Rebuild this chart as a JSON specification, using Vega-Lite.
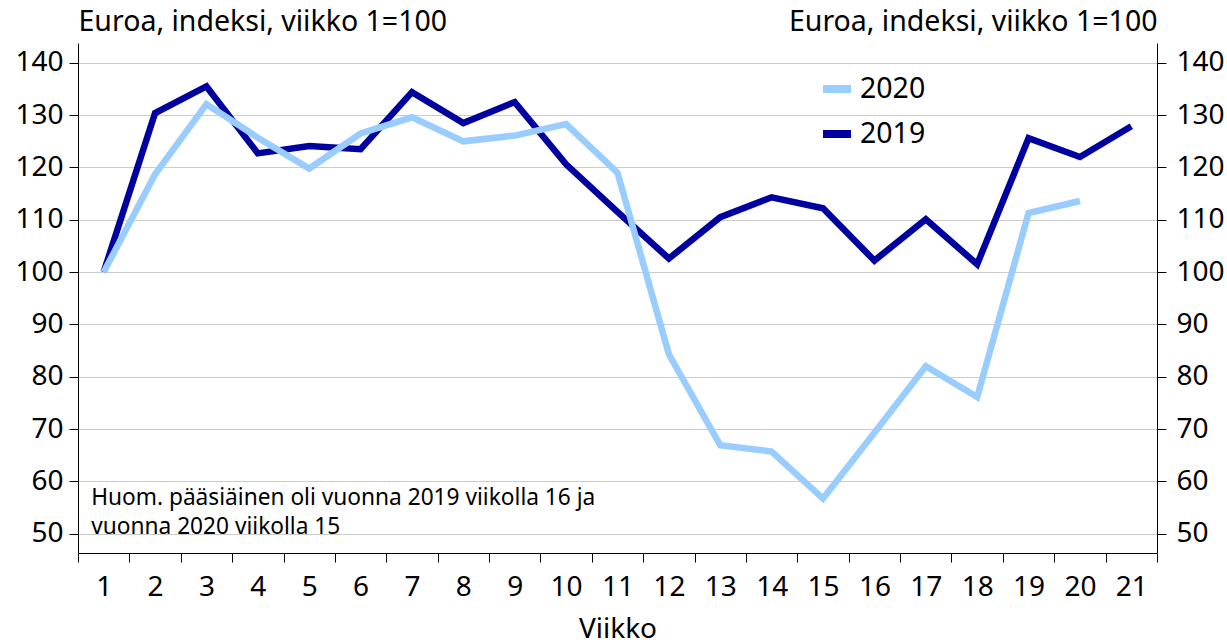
{
  "$schema": "https://vega.github.io/schema/vega-lite/v6.json",
  "width": 1079,
  "height": 510,
  "autosize": {"type": "none"},
  "padding": {"left": 78, "top": 43, "right": 70, "bottom": 91},
  "background": "white",
  "config": {
    "font": "Noto Sans",
    "view": {"stroke": null},
    "axis": {"labelColor": "black", "titleColor": "black", "titleFontWeight": "normal", "domainColor": "black", "tickColor": "black"}
  },
  "datasets": {
    "series": [
      {"week": 1, "year": "2019", "value": 100},
      {"week": 2, "year": "2019", "value": 130.4},
      {"week": 3, "year": "2019", "value": 135.5},
      {"week": 4, "year": "2019", "value": 122.7},
      {"week": 5, "year": "2019", "value": 124.1},
      {"week": 6, "year": "2019", "value": 123.5},
      {"week": 7, "year": "2019", "value": 134.4},
      {"week": 8, "year": "2019", "value": 128.5},
      {"week": 9, "year": "2019", "value": 132.5},
      {"week": 10, "year": "2019", "value": 120.6},
      {"week": 11, "year": "2019", "value": 111.5},
      {"week": 12, "year": "2019", "value": 102.6},
      {"week": 13, "year": "2019", "value": 110.5},
      {"week": 14, "year": "2019", "value": 114.3},
      {"week": 15, "year": "2019", "value": 112.2},
      {"week": 16, "year": "2019", "value": 102.2},
      {"week": 17, "year": "2019", "value": 110.1},
      {"week": 18, "year": "2019", "value": 101.5},
      {"week": 19, "year": "2019", "value": 125.6},
      {"week": 20, "year": "2019", "value": 122.0},
      {"week": 21, "year": "2019", "value": 127.9},
      {"week": 1, "year": "2020", "value": 100},
      {"week": 2, "year": "2020", "value": 118.7},
      {"week": 3, "year": "2020", "value": 132.1},
      {"week": 4, "year": "2020", "value": 125.7},
      {"week": 5, "year": "2020", "value": 119.8},
      {"week": 6, "year": "2020", "value": 126.5},
      {"week": 7, "year": "2020", "value": 129.6},
      {"week": 8, "year": "2020", "value": 125.0},
      {"week": 9, "year": "2020", "value": 126.1},
      {"week": 10, "year": "2020", "value": 128.3},
      {"week": 11, "year": "2020", "value": 119.0},
      {"week": 12, "year": "2020", "value": 84.3},
      {"week": 13, "year": "2020", "value": 66.9},
      {"week": 14, "year": "2020", "value": 65.7},
      {"week": 15, "year": "2020", "value": 56.7},
      {"week": 16, "year": "2020", "value": 69.3},
      {"week": 17, "year": "2020", "value": 82.0},
      {"week": 18, "year": "2020", "value": 76.1},
      {"week": 19, "year": "2020", "value": 111.3},
      {"week": 20, "year": "2020", "value": 113.6}
    ],
    "note": [
      {"week": 1, "value": 55.4, "text": ["Huom. pääsiäinen oli vuonna 2019 viikolla 16 ja", "vuonna 2020 viikolla 15"]}
    ]
  },
  "layer": [
    {
      "data": {"name": "series"},
      "transform": [{"filter": "datum.year == '2019'"}],
      "mark": {"type": "line", "strokeWidth": 6.5, "strokeJoin": "miter"},
      "encoding": {
        "x": {"field": "week", "type": "ordinal", "sort": "ascending",
          "scale": {"type": "band", "paddingInner": 0, "paddingOuter": 0, "domain": [1,2,3,4,5,6,7,8,9,10,11,12,13,14,15,16,17,18,19,20,21]},
          "axis": {"title": "Viikko", "labelAngle": 0, "tickBand": "extent", "tickSize": 9, "labelFontSize": 28, "labelPadding": 11, "titleFontSize": 28, "titlePadding": 14, "grid": false}},
        "y": {"field": "value", "type": "quantitative",
          "scale": {"domain": [46.3, 143.8], "nice": false, "zero": false},
          "axis": {"orient": "left", "values": [50,60,70,80,90,100,110,120,130,140], "grid": true, "gridColor": "#cccccc", "gridWidth": 1.2, "tickSize": 9, "labelFontSize": 28, "labelPadding": 6,
            "title": "Euroa, indeksi, viikko 1=100", "titleAngle": 0, "titleAlign": "left", "titleBaseline": "alphabetic", "titleX": 0, "titleY": -13, "titleFontSize": 28.5}},
        "color": {"field": "year", "type": "nominal",
          "scale": {"domain": ["2020", "2019"], "range": ["#99ccff", "#0000a0"]},
          "legend": {"title": null, "orient": "none", "legendX": 741, "legendY": 28, "padding": 0, "symbolType": "stroke", "symbolSize": 784, "symbolStrokeWidth": 8, "labelFontSize": 28.5, "labelOffset": 5, "rowPadding": 11, "labelColor": "black"}}
      }
    },
    {
      "data": {"name": "series"},
      "transform": [{"filter": "datum.year == '2020'"}],
      "mark": {"type": "line", "strokeWidth": 6.5, "strokeJoin": "miter"},
      "encoding": {
        "x": {"field": "week", "type": "ordinal", "sort": "ascending",
          "scale": {"type": "band", "paddingInner": 0, "paddingOuter": 0, "domain": [1,2,3,4,5,6,7,8,9,10,11,12,13,14,15,16,17,18,19,20,21]},
          "axis": {"title": "Viikko", "labelAngle": 0, "tickBand": "extent", "tickSize": 9, "labelFontSize": 28, "labelPadding": 11, "titleFontSize": 28, "titlePadding": 14, "grid": false}},
        "y": {"field": "value", "type": "quantitative",
          "scale": {"domain": [46.3, 143.8], "nice": false, "zero": false},
          "axis": {"orient": "right", "values": [50,60,70,80,90,100,110,120,130,140], "grid": false, "tickSize": 9, "labelFontSize": 28, "labelPadding": 10,
            "title": "Euroa, indeksi, viikko 1=100", "titleAngle": 0, "titleAlign": "right", "titleBaseline": "alphabetic", "titleX": 0, "titleY": -13, "titleFontSize": 28.5}},
        "color": {"field": "year", "type": "nominal",
          "scale": {"domain": ["2020", "2019"], "range": ["#99ccff", "#0000a0"]}}
      }
    },
    {
      "data": {"name": "note"},
      "mark": {"type": "text", "align": "left", "baseline": "alphabetic", "dx": -12.5, "fontSize": 22.7, "lineHeight": 29, "color": "black"},
      "encoding": {
        "x": {"field": "week", "type": "ordinal", "sort": "ascending",
          "scale": {"type": "band", "paddingInner": 0, "paddingOuter": 0, "domain": [1,2,3,4,5,6,7,8,9,10,11,12,13,14,15,16,17,18,19,20,21]},
          "axis": {"title": "Viikko", "labelAngle": 0, "tickBand": "extent", "tickSize": 9, "labelFontSize": 28, "labelPadding": 11, "titleFontSize": 28, "titlePadding": 14, "grid": false}},
        "y": {"field": "value", "type": "quantitative", "axis": null},
        "text": {"field": "text"}
      }
    }
  ],
  "resolve": {"axis": {"y": "independent"}}
}
